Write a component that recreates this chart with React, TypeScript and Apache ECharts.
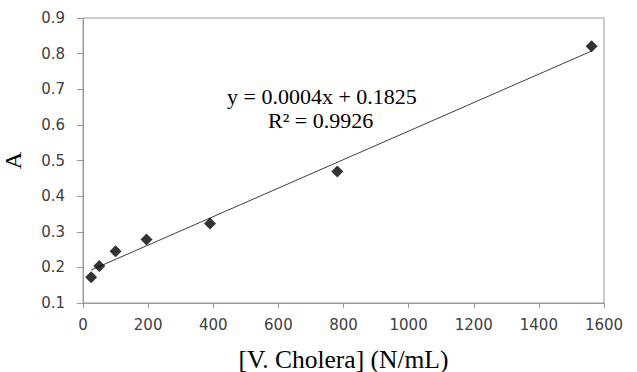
import React, { useEffect, useRef } from "react";
import * as echarts from "echarts";

const concentrations = [25, 50, 100, 195, 390, 781, 1562];
const absorbance = [0.172, 0.204, 0.245, 0.278, 0.323, 0.469, 0.821];
const trendSlope = 0.0004;
const trendIntercept = 0.1825;
const trendX = [25, 1562];
const equationText = "y = 0.0004x + 0.1825";
const r2Text = "R² = 0.9926";

export default function App() {
  const ref = useRef<HTMLDivElement>(null);
  useEffect(() => {
    if (!ref.current) return;
    const chart = echarts.init(ref.current, null, { renderer: "svg" });
    const points = concentrations.map((x, i) => [x, absorbance[i]]);
    const trend = trendX.map((x) => [x, trendSlope * x + trendIntercept]);
    const axisColor = "#9a9a9a";
    const labelStyle = {
      fontFamily: "DejaVu Sans",
      fontSize: 15,
      color: "#404040",
    };
    chart.setOption({
      animation: false,
      backgroundColor: "#ffffff",
      grid: {
        left: 83,
        right: 33,
        top: 18,
        bottom: 69,
        show: true,
        borderColor: axisColor,
        borderWidth: 1,
        containLabel: false,
        outerBoundsMode: "none",
      },
      xAxis: {
        type: "value",
        min: 0,
        max: 1600,
        interval: 200,
        name: "[V. Cholera] (N/mL)",
        nameLocation: "middle",
        nameGap: 43,
        nameTextStyle: {
          fontFamily: "Liberation Serif",
          fontSize: 25.5,
          color: "#000000",
        },
        axisLine: { show: true, lineStyle: { color: axisColor } },
        axisTick: { show: true, length: 5, lineStyle: { color: axisColor } },
        axisLabel: { ...labelStyle, margin: 14, formatter: (v: number) => String(v) },
        splitLine: { show: false },
      },
      yAxis: {
        type: "value",
        min: 0.1,
        max: 0.9,
        interval: 0.1,
        name: "A",
        nameLocation: "middle",
        nameRotate: 90,
        nameGap: 58,
        nameTextStyle: {
          fontFamily: "Liberation Serif",
          fontSize: 24,
          color: "#000000",
        },
        axisLine: { show: true, lineStyle: { color: axisColor } },
        axisTick: { show: true, length: 6, lineStyle: { color: axisColor } },
        axisLabel: {
          ...labelStyle,
          margin: 18,
          formatter: (v: number) => v.toFixed(1),
        },
        splitLine: { show: false },
      },
      series: [
        {
          type: "line",
          data: trend,
          symbol: "none",
          lineStyle: { color: "#404040", width: 1 },
          z: 1,
        },
        {
          type: "scatter",
          data: points,
          symbol: "diamond",
          symbolSize: 12,
          itemStyle: { color: "#000000" },
          z: 2,
        },
      ],
      graphic: [
        {
          type: "text",
          left: 227,
          top: 85,
          style: {
            text: equationText,
            fontFamily: "Liberation Serif",
            fontSize: 22,
            fill: "#000000",
          },
        },
        {
          type: "text",
          left: 268,
          top: 109,
          style: {
            text: r2Text,
            fontFamily: "Liberation Serif",
            fontSize: 22,
            fill: "#000000",
          },
        },
      ],
    });
    return () => chart.dispose();
  }, []);
  return <div ref={ref} style={{ width: 637, height: 372, position: "absolute", left: 0, top: 0 }} />;
}
